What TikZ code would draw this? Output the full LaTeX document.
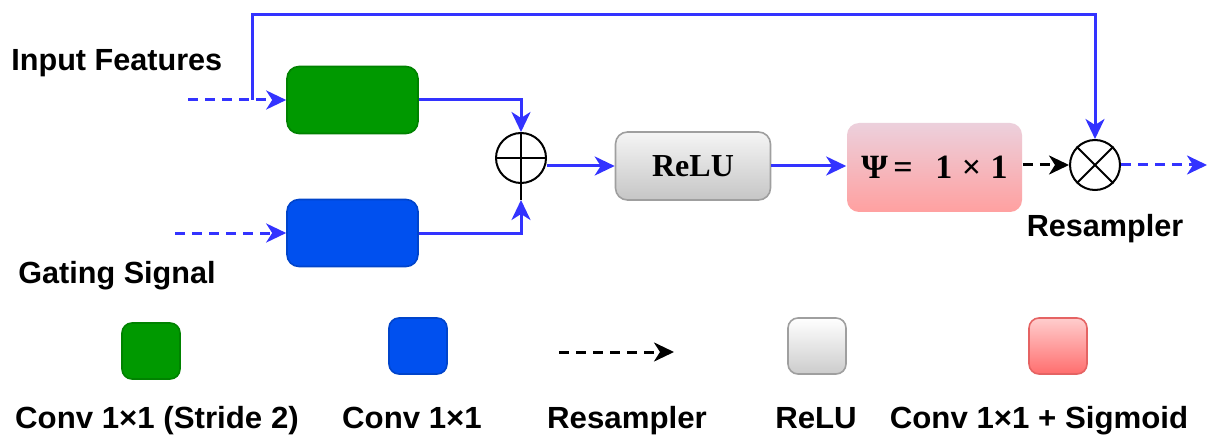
\documentclass[tikz,border=0pt]{standalone}
\usepackage{fontspec}
\setmainfont{Liberation Sans}
\newfontfamily\serifb{Liberation Serif}
\usetikzlibrary{arrows.meta}
\definecolor{fgreen}{HTML}{009900}
\definecolor{fblue}{HTML}{0050EF}
\definecolor{arr}{HTML}{3333FF}
\definecolor{pinktop}{RGB}{236,208,220}
\definecolor{pinkbot}{RGB}{255,160,160}
\definecolor{lpinktop}{RGB}{255,205,205}
\definecolor{lpinkbot}{RGB}{255,110,110}
\begin{document}
\begin{tikzpicture}[x=0.5pt,y=-0.5pt,
  lbl/.style={font=\fontsize{15.3}{18}\selectfont\bfseries, inner sep=0},
  conn/.style={draw=arr, line width=1.5pt, -{Stealth[length=10pt,width=9.5pt,inset=3pt]}},
  dconn/.style={conn, dash pattern=on 5pt off 3.5pt},
  kconn/.style={draw=black, line width=1.5pt, dash pattern=on 5pt off 3.5pt, -{Stealth[length=10pt,width=9.5pt,inset=3pt]}},
  box/.style={rounded corners=6pt, minimum width=65.5pt, minimum height=33.5pt, inner sep=0, line width=0.8pt},
  circ/.style={circle, draw=black, line width=1pt, minimum size=25pt, inner sep=0},
  lsq/.style={rounded corners=5pt, minimum width=29pt, minimum height=28pt, inner sep=0, line width=0.8pt},
  ser/.style={font=\serifb\fontsize{16}{19}\selectfont\bfseries},
]
\fill[white] (0,0) rectangle (1208,438);
\useasboundingbox (0,0) rectangle (1208,438);

% main boxes
\node[box, fill=fgreen, draw=fgreen!85!black] (g) at (352.5,100) {};
\node[box, fill=fblue, draw=fblue!85!black] (b) at (352.5,233) {};
\node[circ] (add) at (521,158) {};
\draw[line width=1pt] (add.north) -- (add.south);
\draw[line width=1pt] (add.west) -- (add.east);
\coordinate (addb) at (521,200);
\draw[line width=1pt] (add.south) -- (addb);

\node[box, minimum width=77.5pt, minimum height=34pt, top color=gray!8, bottom color=gray!45, draw=gray!75, ser] (relu) at (693,166) {ReLU};
\node[box, minimum width=87.5pt, minimum height=44.5pt, top color=pinktop, bottom color=pinkbot, draw=none, font=\serifb\fontsize{17}{20}\selectfont\bfseries] (psi) at (934.5,167.5) {Ψ\,=\ \ \,1\;×\;1};
\node[circ] (mul) at (1095,165) {};
\draw[line width=1pt] (mul.north west) -- (mul.south east);
\draw[line width=1pt] (mul.north east) -- (mul.south west);

% inputs
\coordinate (in1) at (188,100);
\coordinate (in2) at (175,233);
\coordinate (j) at (252,100);
\coordinate (top) at (252,15);
\coordinate (out) at (1207,165);
\draw[dconn] (in1) -- (g.west);
\draw[dconn] (in2) -- (b.west);
\draw[conn] (j) -- (top) -| (mul.north);
\draw[conn] (g.east) -| (add.north);
\draw[conn] (b.east) -| (addb);
\draw[conn] (add.east |- relu.west) -- (relu.west);
\draw[conn] (relu.east) -- (psi.west |- relu.east);
\draw[kconn] (psi.east |- mul.west) -- (mul.west);
\draw[dconn] (mul.east) -- (out);

% labels
\node[lbl, anchor=base west] (tin) at (11,71) {Input Features};
\node[lbl, anchor=base west] (tgs) at (18,283) {Gating Signal};
\node[lbl, anchor=base] (tres) at (1105,236) {Resampler};

% legend
\node[lsq, fill=fgreen, draw=fgreen!85!black] (l1) at (151,351) {};
\node[lsq, fill=fblue, draw=fblue!85!black] (l2) at (418,346) {};
\coordinate (l3a) at (559,352);
\coordinate (l3b) at (674,352);
\draw[kconn] (l3a) -- (l3b);
\node[lsq, top color=white, bottom color=gray!40, draw=gray!75] (l4) at (817,346) {};
\node[lsq, top color=lpinktop, bottom color=lpinkbot, draw=lpinkbot!90!black] (l5) at (1058,346) {};

\node[lbl, anchor=base, xscale=1.02] (t1) at (157,428) {Conv 1×1 (Stride 2)};
\node[lbl, anchor=base, xscale=1.02] (t2) at (412,428) {Conv 1×1};
\node[lbl, anchor=base, xscale=1.02] (t3) at (627,428) {Resampler};
\node[lbl, anchor=base, xscale=1.02] (t4) at (816,428) {ReLU};
\node[lbl, anchor=base, xscale=1.02] (t5) at (1039,428) {Conv 1×1 + Sigmoid};
\end{tikzpicture}
\end{document}
